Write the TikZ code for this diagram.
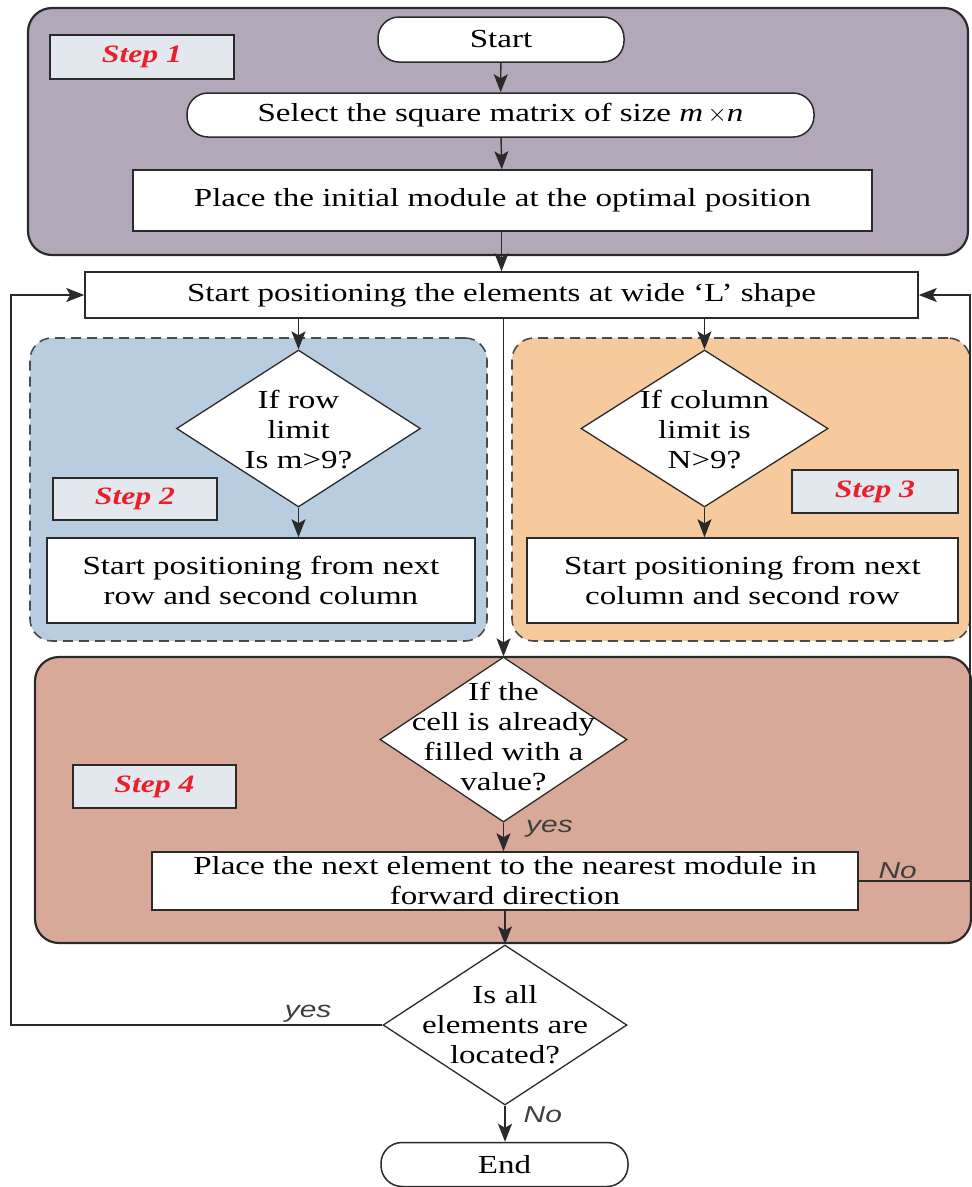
\documentclass[tikz,border=0pt]{standalone}
\usepackage{fontspec}
\setmainfont{Liberation Serif}[FakeStretch=1.27]
\newfontfamily\lsans{Liberation Sans}[FakeStretch=1.3]
\usetikzlibrary{shapes.geometric,arrows.meta}
\definecolor{purp}{HTML}{B3A7BA}
\definecolor{bluep}{HTML}{B8CEE0}
\definecolor{orangep}{HTML}{F6CA9D}
\definecolor{brownp}{HTML}{D8A998}
\definecolor{lbl}{HTML}{E3E8EF}
\definecolor{redt}{HTML}{E8202A}
\definecolor{edge}{HTML}{2A2A2A}
\tikzset{
  panel/.style={draw=edge, line width=2.2pt, rounded corners=24pt, inner sep=0pt},
  dpanel/.style={draw=edge!85, line width=1.6pt, dash pattern=on 10pt off 6pt, rounded corners=22pt, inner sep=0pt},
  box/.style={draw=edge, fill=white, line width=1.5pt, inner sep=0pt, align=center, font=\fontsize{26}{30}\selectfont},
  term/.style={box, rounded corners=21pt},
  dia/.style={diamond, draw=edge, fill=white, line width=1.3pt, inner sep=0pt},
  dtext/.style={align=center, inner sep=0pt, font=\fontsize{26}{30}\selectfont},
  stepbox/.style={draw=edge, fill=lbl, line width=1.5pt, minimum width=184pt, minimum height=44pt, inner sep=0pt, text=redt, font=\fontsize{25}{28}\selectfont\bfseries\itshape},
  arr/.style={draw=edge, line width=1.4pt, -{Stealth[length=18pt,width=14pt,inset=4pt]}},
  ln/.style={draw=edge, line width=1.4pt},
  yn/.style={font=\lsans\itshape\fontsize{23}{26}\selectfont, text=edge!90, inner sep=2pt}
}
\begin{document}
\begin{tikzpicture}[x=1pt,y=-1pt]
\useasboundingbox (0,0) rectangle (972,1187);
% panels
\node[panel, fill=purp, minimum width=940pt, minimum height=247pt] (p1) at (498,131.5) {};
\node[dpanel, fill=bluep, minimum width=457pt, minimum height=303pt] (p2) at (258.5,489.5) {};
\node[dpanel, fill=orangep, minimum width=458pt, minimum height=303pt] (p3) at (741,489.5) {};
\node[panel, fill=brownp, minimum width=936pt, minimum height=286pt] (p4) at (503,800) {};
% step labels
\node[stepbox] (s1) at (142,57) {Step 1};
\node[stepbox, minimum width=164pt, minimum height=42pt] (s2) at (135,499) {Step 2};
\node[stepbox, minimum width=166pt, minimum height=43pt] (s3) at (875,491.5) {Step 3};
\node[stepbox, minimum width=163pt, minimum height=43pt] (s4) at (154.5,786.5) {Step 4};
% nodes
\node[term, minimum width=246pt, minimum height=45pt] (start) at (501,39.5) {Start};
\node[term, minimum width=627pt, minimum height=44pt] (sel) at (500.5,115) {Select the square matrix of size \textit{m}\,$\times$\textit{n}};
\node[box, minimum width=739pt, minimum height=61pt] (init) at (502.5,200.5) {Place the initial module at the optimal position};
\node[box, minimum width=833pt, minimum height=46pt] (lbox) at (501.5,295) {Start positioning the elements at wide `L' shape};
\node[dia, minimum width=244pt, minimum height=157pt] (d1) at (298.5,428.5) {};
\node[dtext] (d1t) at (298.5,430) {If row\\limit\\Is m>9?};
\node[dia, minimum width=247pt, minimum height=157pt] (d2) at (704.5,428.5) {};
\node[dtext] (d2t) at (704.5,430) {If column\\limit is\\N>9?};
\node[box, minimum width=428pt, minimum height=85pt] (rowb) at (261,580.5) {Start positioning from next\\row and second column};
\node[box, minimum width=431pt, minimum height=85pt] (colb) at (742.5,580.5) {Start positioning from next\\column and second row};
\node[dia, minimum width=247pt, minimum height=165pt] (d3) at (503.5,739.5) {};
\node[dtext] (d3t) at (503.5,737) {If the\\cell is already\\filled with a\\value?};
\node[box, minimum width=706pt, minimum height=58pt] (next) at (505,881) {Place the next element to the nearest module in\\forward direction};
\node[dia, minimum width=244pt, minimum height=160pt] (d4) at (505,1025) {};
\node[dtext] (d4t) at (505,1025) {Is all\\elements are\\located?};
\node[term, minimum width=247pt, minimum height=44pt] (end) at (504.5,1164.5) {End};
% loop coordinates
\coordinate (lx) at (11,0);
\coordinate (rx) at (970,0);
% connectors
\draw[arr] (start) -- (sel);
\draw[arr] (sel) -- (init);
\draw[arr] (init.south -| lbox.north) -- (lbox.north);
\draw[arr] (d1.north |- lbox.south) -- (d1.north);
\draw[arr] (d2.north |- lbox.south) -- (d2.north);
\draw[arr] (d1.south) -- (d1.south |- rowb.north);
\draw[arr] (d2.south) -- (d2.south |- colb.north);
\draw[arr] (lbox.south -| d3.north) -- (d3.north);
\draw[arr] (d3.south) -- node[yn, anchor=west, pos=0.2, xshift=20pt] {yes} (d3.south |- next.north);
\draw[arr] (next.south -| d4.north) -- (d4.north);
\draw[arr] (d4.south) -- node[yn, anchor=west, pos=0.25, xshift=16pt] {No} (d4.south |- end.north);
\draw[arr] (d4.west) -- node[yn, anchor=south, pos=0.2] {yes} (d4.west -| lx) |- (lbox.west);
\draw[arr] (next.east) -- node[yn, anchor=south, pos=0.35] {No} (next.east -| rx) |- (lbox.east);
\end{tikzpicture}
\end{document}
